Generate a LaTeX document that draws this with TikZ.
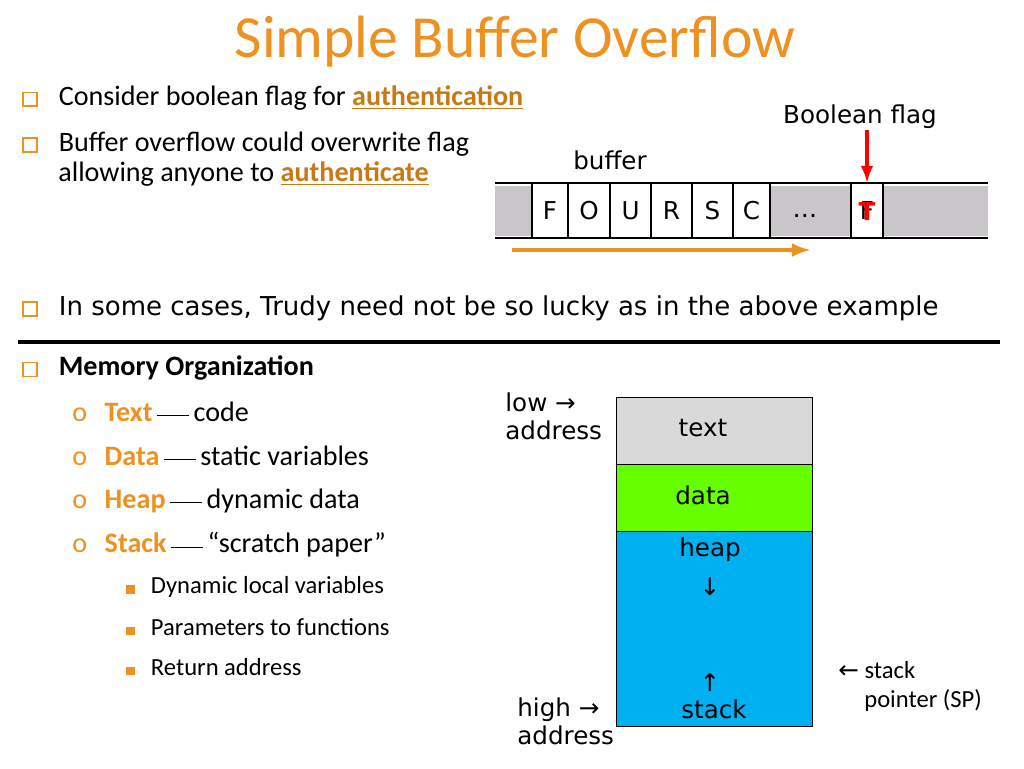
\documentclass[tikz,border=0pt]{standalone}
\usepackage{fontspec}
\setmainfont{Carlito}
\newfontfamily\comic{DejaVu Sans}
\newfontfamily\symb{DejaVu Sans}
\usetikzlibrary{positioning}
\definecolor{slideorange}{RGB}{237,145,33}
\definecolor{linkorange}{RGB}{200,120,20}
\definecolor{cellgray}{RGB}{200,198,200}
\definecolor{datagreen}{RGB}{102,255,0}
\definecolor{stackblue}{RGB}{0,176,240}
\definecolor{textgray}{RGB}{217,217,217}
\newcommand{\bul}{\textcolor{slideorange}{\fboxsep=0pt\fboxrule=0.9pt\fbox{\rule{0pt}{7pt}\rule{7pt}{0pt}}}}
\newcommand{\lnk}[1]{\textcolor{linkorange}{\textbf{\underline{#1}}}}
\newcommand{\kw}[1]{\textcolor{slideorange}{\textbf{#1}}}
\tikzset{
  body/.style={anchor=west, inner sep=0pt, font=\fontsize{16}{19}\selectfont},
  comictext/.style={font=\comic\fontsize{14}{16}\selectfont, inner sep=0pt},
  cell/.style={draw, thick, fill=white, minimum height=1.1cm, inner sep=0pt},
  memblock/.style={draw, minimum width=3.92cm, inner sep=0pt}
}
\begin{document}
\begin{tikzpicture}[x=0.02cm, y=-0.02cm]
\useasboundingbox (0,0) rectangle (1024,768);
% title
\node[font=\fontsize{34}{36}\selectfont, text=slideorange] (title) at (515,42) {Simple Buffer Overflow};
% bullets top
\node[body] (b1) at (22,98) {\bul\hspace{12pt}Consider boolean flag for \lnk{authentication}};
\node[body] (b2) at (22,144) {\bul\hspace{12pt}Buffer overflow could overwrite flag};
\node[body, anchor=west] (b2b) at (58,174) {allowing anyone to \lnk{authenticate}};
% buffer
\fill[cellgray] (495,186) rectangle (988,236);
\draw[thick] (495,183) -- (988,183);
\draw[thick] (495,238) -- (988,238);
\foreach \xa/\xb/\ch in {532/568/F,568/610/O,610/651/U,651/692/R,692/733/S,733/770/C}
  \node[cell, minimum width=(\xb-\xa)*0.02cm, font=\comic\fontsize{14}{16}\selectfont] (c\ch) at ({(\xa+\xb)/2},210.5) {\ch};
\draw[thick] (770,183) -- (770,238);
\node[comictext] (dots) at (805,216) {\dots};
\node[cell, minimum width=0.64cm, font=\comic\fontsize{14}{16}\selectfont] (flag) at (867,210.5) {F};
\node[text=red, font=\comic\bfseries\fontsize{14}{16}\selectfont, inner sep=0pt] (tee) at (867,212) {T};
\node[comictext] (bufl) at (610,160) {buffer};
\node[comictext] (flagl) at (860,117) {Boolean flag};
\coordinate (arrtop) at (867,130);
\draw[red, line width=2.2pt, -latex] (arrtop) -- (flag.north);
\coordinate (ostart) at (512,250);
\coordinate (oend) at (810,250);
\draw[slideorange, line width=2.5pt, -latex] (ostart) -- (oend);
% lucky line
\node[body, font=\comic\fontsize{14.8}{17}\selectfont] (b3) at (22,308) {\bul\hspace{12pt}In some cases, Trudy need not be so lucky as in the above example};
\draw[line width=1.8pt] (18,342) -- (1000,342);
% memory organisation
\node[body] (mem) at (22,368) {\bul\hspace{12pt}\textbf{Memory Organization}};
\foreach \yy/\k/\rest in {412/Text/code,456/Data/static variables,501/Heap/dynamic data,545/Stack/``scratch paper''}
  \node[body] (m\k) at (72,\yy) {\textcolor{slideorange}{o}\hspace{10pt}\kw{\k}\,\rule[3pt]{18pt}{0.6pt}\,\rest};
\foreach \yy/\rest [count=\i] in {587/Dynamic local variables,627/Parameters to functions,667/Return address}
  \node[body, font=\fontsize{14}{17}\selectfont] (s\i) at (126,\yy) {\textcolor{slideorange}{\rule{5pt}{5pt}}\hspace{9pt}\rest};
% memory blocks
\node[memblock, fill=textgray, minimum height=1.34cm] (tblk) at (714,430.5) {};
\node[memblock, fill=datagreen, minimum height=1.34cm] (dblk) at (714,497.5) {};
\node[memblock, fill=stackblue, minimum height=3.9cm] (sblk) at (714,628.5) {};
\node[comictext] (tl) at (703,428) {text};
\node[comictext] (dl) at (703,495) {data};
\node[comictext] (hl) at (710,550) {heap};
\node[comictext, font=\symb\fontsize{14}{16}\selectfont] (hd) at (710,587) {↓};
\node[comictext, font=\symb\fontsize{14}{16}\selectfont] (su) at (710,682) {↑};
\node[comictext] (sl) at (714,709) {stack};
\node[comictext, align=left, anchor=north west] (low) at (505,392) {low →\\address};
\node[comictext, align=left, anchor=north west] (high) at (517,697) {high →\\address};
\node[body, font=\fontsize{14}{17}\selectfont, anchor=west] (spl) at (838,670) {{\symb ←} stack};
\node[body, font=\fontsize{14}{17}\selectfont, anchor=west] (spl2) at (864,700) {pointer (\textrm{SP})};
\end{tikzpicture}
\end{document}
